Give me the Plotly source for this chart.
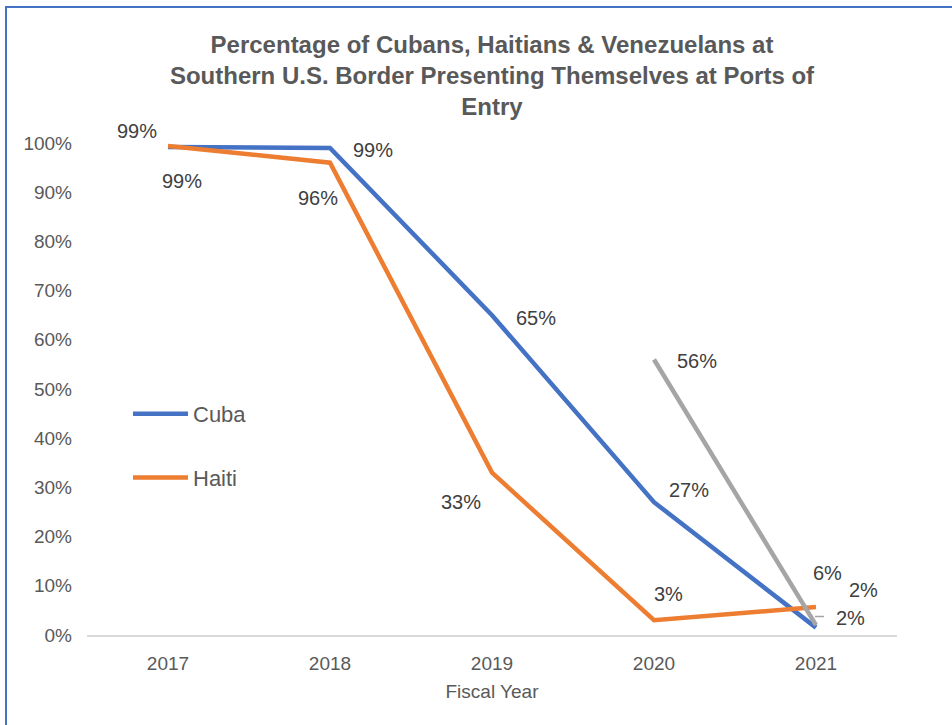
import plotly.graph_objects as go

years = ["2017", "2018", "2019", "2020", "2021"]
cuba = [0.992, 0.99, 0.65, 0.27, 0.015]
haiti = [0.994, 0.96, 0.33, 0.03, 0.057]
venezuela = [None, None, None, 0.56, 0.02]
y_ticks = [0, 0.1, 0.2, 0.3, 0.4, 0.5, 0.6, 0.7, 0.8, 0.9, 1.0]

# label offsets (px) per point
cuba_off = [(-31, 16), (43, -2), (44, -3), (35, 12), (34, 10)]
haiti_off = [(14, -35), (-12, -35), (-31, -29), (14, 26), (11, 34)]
ven_off = [None, None, None, (43, -2), (47, 35)]

C_CUBA = "#4472C4"
C_HAITI = "#ED7D31"
C_VEN = "#A5A5A5"
FONT = "Liberation Sans, Arial, sans-serif"

fig = go.Figure()
fig.add_trace(go.Scatter(x=years, y=cuba, mode="lines", name="Cuba",
                         line=dict(color=C_CUBA, width=4.5), legendgroup="a"))
fig.add_trace(go.Scatter(x=years, y=haiti, mode="lines", name="Haiti",
                         line=dict(color=C_HAITI, width=4.5), legendgroup="b"))
fig.add_trace(go.Scatter(x=years, y=venezuela, mode="lines", name="Venezuela",
                         line=dict(color=C_VEN, width=4.5), showlegend=False))

def pct(v):
    return f"{int(v * 100 + 0.5)}%"

for series, offs in ((cuba, cuba_off), (haiti, haiti_off), (venezuela, ven_off)):
    for i, (v, o) in enumerate(zip(series, offs)):
        if v is None or o is None:
            continue
        fig.add_annotation(x=i, y=v, xref="x", yref="y", text=pct(v), showarrow=False,
                           xshift=o[0], yshift=o[1],
                           font=dict(size=20, color="#404040", family=FONT))

# small leader line for the Cuba 2021 label
fig.add_annotation(x=4, y=cuba[4], xref="x", yref="y", text=" ", showarrow=True,
                   arrowhead=0, arrowwidth=1.5, arrowcolor="#A5A5A5", standoff=0,
                   ax=13, ay=0, xshift=-1, yshift=11)

# outer border
fig.add_shape(type="rect", xref="paper", yref="paper",
              x0=(6 - 87) / 810, x1=1.3, y0=-0.4, y1=1 + (143 - 7) / 492,
              line=dict(color="#4472C4", width=2), fillcolor="rgba(0,0,0,0)")

fig.update_layout(
    width=952, height=725,
    margin=dict(l=87, r=55, t=143, b=90),
    paper_bgcolor="white", plot_bgcolor="white",
    font=dict(family=FONT, color="#595959", size=19),
    title=dict(
        text="Percentage of Cubans, Haitians & Venezuelans at<br>Southern U.S. Border Presenting Themselves at Ports of<br>Entry",
        x=0.5, xref="paper", xanchor="center", y=1 - 53 / 725, yanchor="top",
        font=dict(size=24, color="#595959", family=FONT, weight="bold"),
    ),
    showlegend=True,
    legend=dict(x=(128 - 87) / 810, y=(635 - 393) / 492, xanchor="left", yanchor="top",
                xref="paper", yref="paper", traceorder="grouped", tracegroupgap=32,
                font=dict(size=22, color="#595959"), bgcolor="rgba(0,0,0,0)",
                itemwidth=55),
    xaxis=dict(type="category", range=[-0.5, 4.5], showgrid=False,
               showline=True, linecolor="#D9D9D9", linewidth=1.5,
               ticks="", tickfont=dict(size=19, color="#595959"),
               ticklabelstandoff=10,
               title=dict(text="Fiscal Year", font=dict(size=19, color="#595959"), standoff=12)),
    yaxis=dict(range=[0, 1.0], tickvals=y_ticks, tickformat=".0%", showgrid=False,
               zeroline=False, showline=False, ticks="",
               tickfont=dict(size=19, color="#595959"), ticklabelstandoff=14),
)

fig.write_html("out.html")
